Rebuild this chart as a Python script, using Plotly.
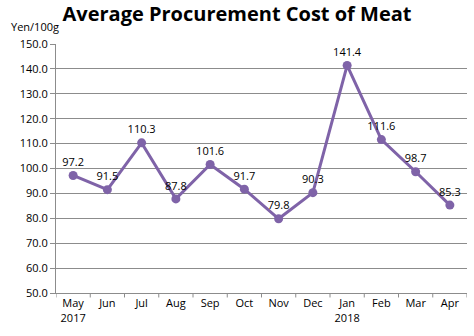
import plotly.graph_objects as go

months = ["May", "Jun", "Jul", "Aug", "Sep", "Oct", "Nov", "Dec", "Jan", "Feb", "Mar", "Apr"]
tick_labels = ["May<br>2017", "Jun", "Jul", "Aug", "Sep", "Oct", "Nov", "Dec",
               "Jan<br>2018", "Feb", "Mar", "Apr"]
cost = [97.2, 91.5, 110.3, 87.8, 101.6, 91.7, 79.8, 90.3, 141.4, 111.6, 98.7, 85.3]

purple = "#7F63A8"
grid = "#8c8c8c"
font_family = "Open Sans, DejaVu Sans, sans-serif"

fig = go.Figure(go.Scatter(
    x=list(range(len(months))),
    y=cost,
    mode="lines+markers+text",
    line=dict(color=purple, width=3),
    marker=dict(color=purple, size=9),
    text=[f"{v:.1f}" for v in cost],
    textposition="top center",
    textfont=dict(family=font_family, size=11, color="#000"),
    cliponaxis=False,
    hoverinfo="skip",
))

fig.update_layout(
    width=474, height=336,
    margin=dict(l=56, r=7, t=44, b=43),
    paper_bgcolor="white", plot_bgcolor="white",
    showlegend=False,
    title=dict(text="<b>Average Procurement Cost of Meat</b>",
               x=0.5, xanchor="center", y=0.958, yanchor="middle",
               font=dict(family=font_family, size=20, color="#000")),
    annotations=[dict(text="Yen/100g", xref="paper", yref="paper",
                      x=-0.115, y=1.07, xanchor="left", yanchor="middle",
                      showarrow=False,
                      font=dict(family=font_family, size=11, color="#000"))],
)

fig.update_xaxes(
    type="linear", range=[-0.5, 11.5],
    tickvals=list(range(len(months))), ticktext=tick_labels,
    showgrid=False, showline=True, linecolor=grid, linewidth=1,
    ticks="", zeroline=False,
    tickfont=dict(family=font_family, size=11, color="#000"),
)
# tick marks at category boundaries
for i in range(len(months) + 1):
    fig.add_shape(type="line", xref="x", yref="paper",
                  x0=i - 0.5, x1=i - 0.5, y0=0, y1=-0.018,
                  line=dict(color=grid, width=1))

fig.update_yaxes(
    range=[50, 150], dtick=10, tickformat=".1f",
    showgrid=True, gridcolor=grid, gridwidth=1,
    showline=True, linecolor=grid, linewidth=1,
    ticks="outside", ticklen=5, tickcolor=grid,
    zeroline=False,
    tickfont=dict(family=font_family, size=11, color="#000"),
)

fig.write_html("out.html")
